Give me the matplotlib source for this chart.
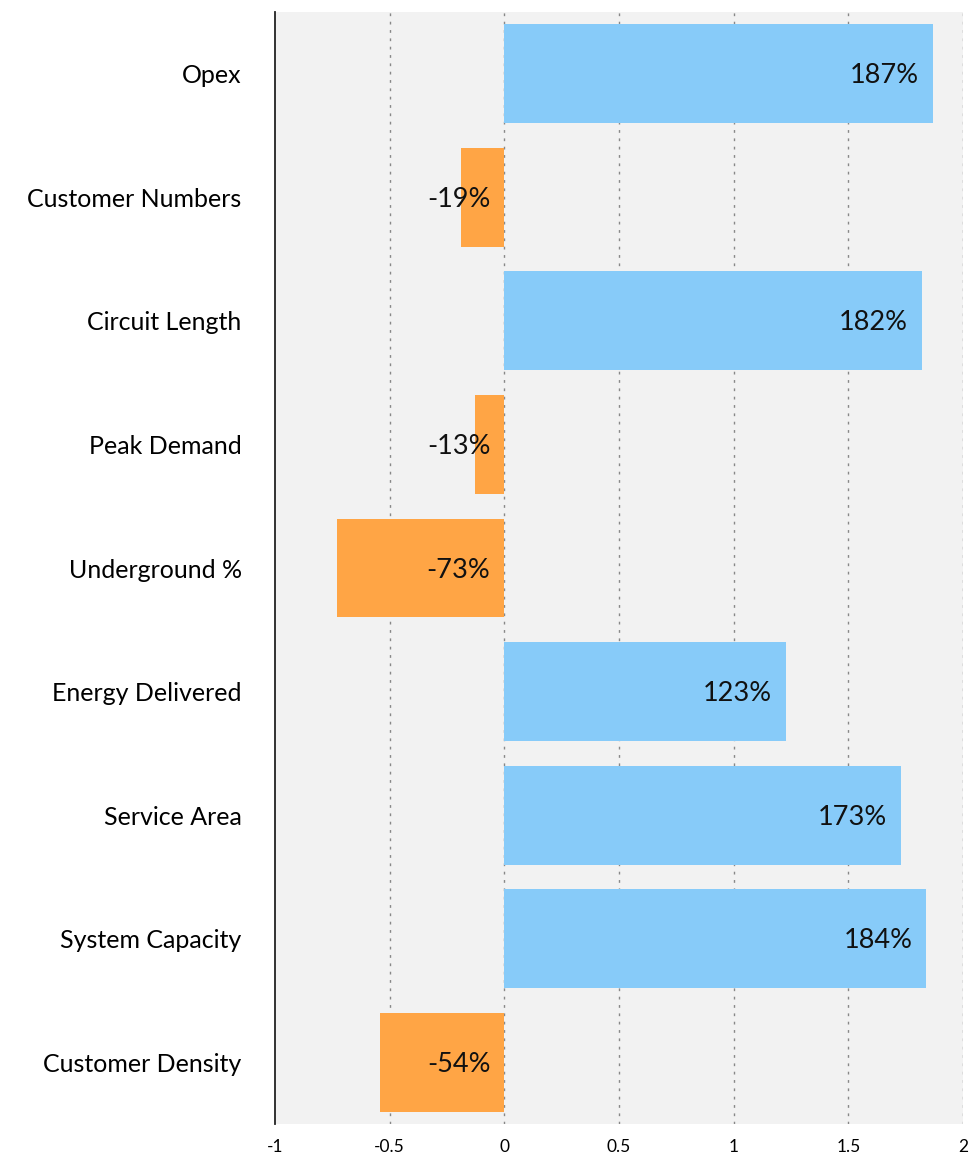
import matplotlib
matplotlib.use("Agg")
import matplotlib.pyplot as plt

categories = ["Opex", "Customer Numbers", "Circuit Length", "Peak Demand", "Underground %",
              "Energy Delivered", "Service Area", "System Capacity", "Customer Density"]
values = [1.87, -0.19, 1.82, -0.13, -0.73, 1.23, 1.73, 1.84, -0.54]
xticks = [-1, -0.5, 0, 0.5, 1, 1.5, 2]
xticklabels = ["-1", "-0.5", "0", "0.5", "1", "1.5", "2"]

plt.rcParams['font.family'] = ['Lato', 'DejaVu Sans']

fig = plt.figure(figsize=(9.78, 11.54), dpi=100)
ax = fig.add_axes([275/978, 1-1124/1154, (963-275)/978, (1124-12)/1154])
ax.set_facecolor("#f2f2f2")

pos_color = "#87cbf9"
neg_color = "#ffa545"
ypos = list(range(len(categories)))
colors = [pos_color if v >= 0 else neg_color for v in values]
ax.barh(ypos, values, height=0.8, color=colors, zorder=2)

for y, v in zip(ypos, values):
    xend = max(v, 0)
    ax.annotate(f"{round(v*100):d}%", xy=(xend, y), xytext=(-14, -2), textcoords="offset pixels",
                ha="right", va="center", fontsize=19.5, color="#111111", zorder=3)

ax.set_xlim(-1, 2)
ax.set_ylim(len(categories) - 0.5, -0.5)
ax.set_yticks(ypos)
ax.set_yticklabels(categories, fontsize=18)
ax.set_xticks(xticks)
ax.set_xticklabels(xticklabels, fontsize=12.5)
ax.tick_params(axis="both", length=0)
ax.tick_params(axis="y", pad=24)
ax.tick_params(axis="x", pad=11)

for x in xticks[1:]:
    ax.axvline(x, color="#888888", linestyle=(0, (2, 4)), linewidth=1, zorder=1)

for s in ["top", "right", "bottom"]:
    ax.spines[s].set_visible(False)
ax.spines["left"].set_color("#222222")
ax.spines["left"].set_linewidth(1.3)

fig.savefig("out.png", dpi=100)
